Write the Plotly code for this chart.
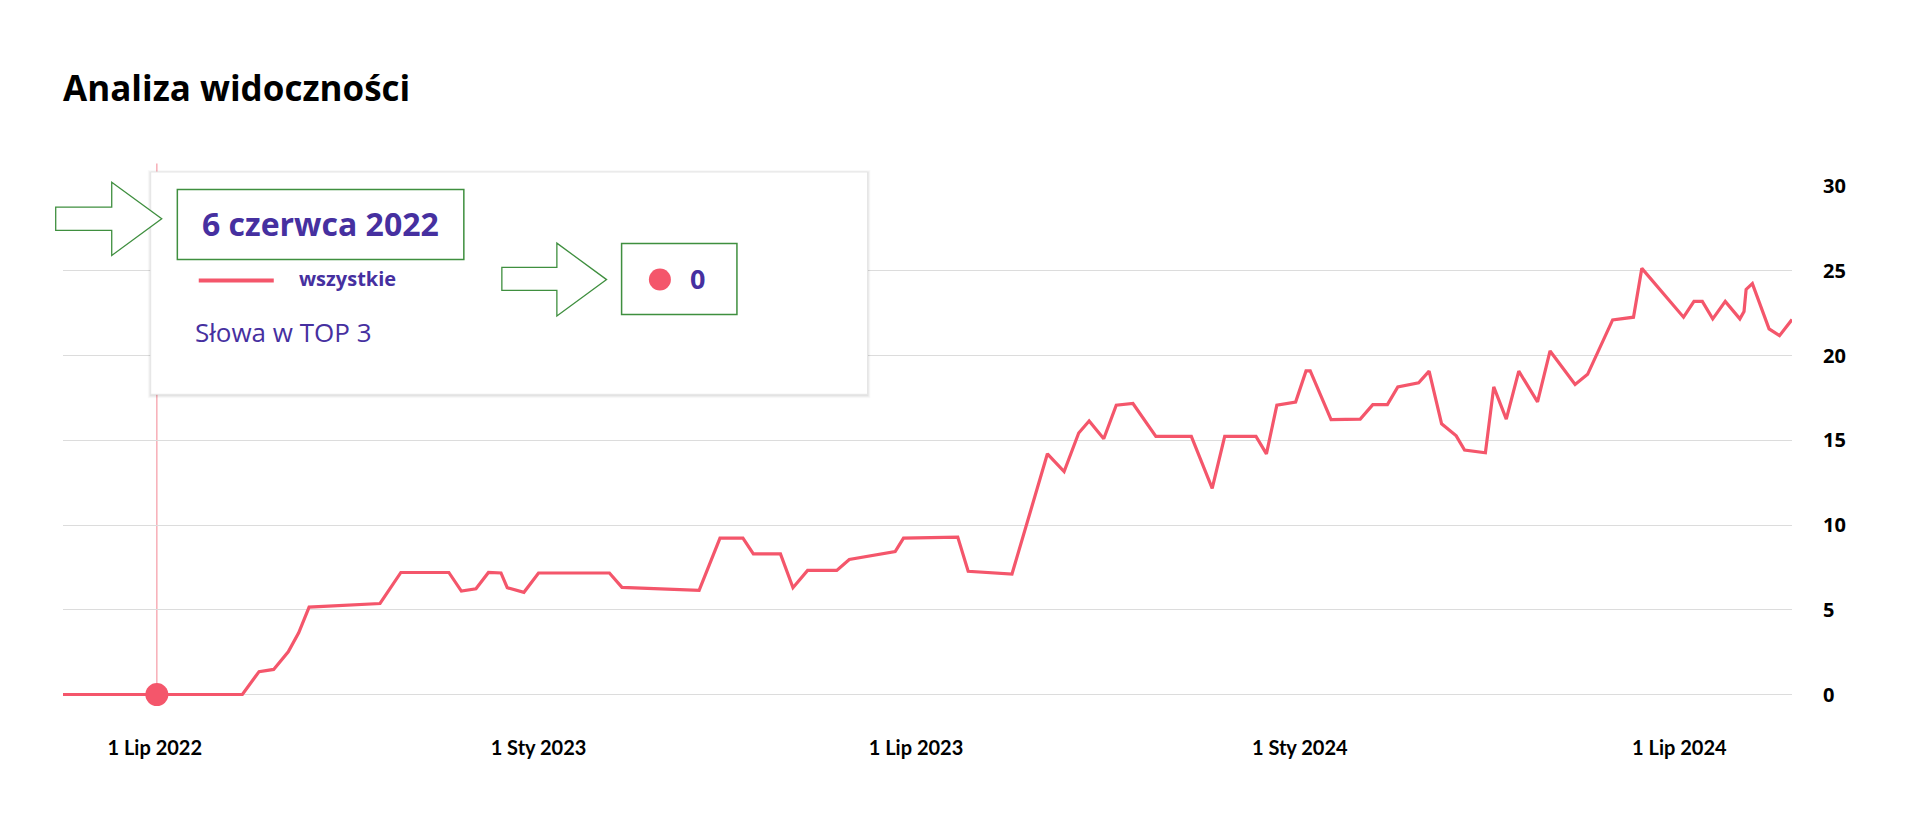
import plotly.graph_objects as go

# ---------------- data ----------------
dates = [
    "2022-05-18", "2022-07-02", "2022-08-12", "2022-08-20", "2022-08-27", "2022-09-03",
    "2022-09-08", "2022-09-13", "2022-10-17", "2022-10-27", "2022-11-19", "2022-11-25",
    "2022-12-02", "2022-12-08", "2022-12-14", "2022-12-17", "2022-12-25", "2023-01-01",
    "2023-02-04", "2023-02-10", "2023-03-19", "2023-03-29", "2023-04-09", "2023-04-14",
    "2023-04-27", "2023-05-03", "2023-05-10", "2023-05-24", "2023-05-30", "2023-06-21",
    "2023-06-25", "2023-07-21", "2023-07-26", "2023-08-16", "2023-09-02", "2023-09-10",
    "2023-09-17", "2023-09-22", "2023-09-29", "2023-10-05", "2023-10-13", "2023-10-24",
    "2023-11-10", "2023-11-20", "2023-11-26", "2023-12-11", "2023-12-16", "2023-12-21",
    "2023-12-30", "2024-01-04", "2024-01-06", "2024-01-16", "2024-01-30", "2024-02-05",
    "2024-02-12", "2024-02-17", "2024-02-27", "2024-03-03", "2024-03-09", "2024-03-16",
    "2024-03-20", "2024-03-30", "2024-04-03", "2024-04-09", "2024-04-15", "2024-04-24",
    "2024-04-30", "2024-05-12", "2024-05-18", "2024-05-30", "2024-06-09", "2024-06-13",
    "2024-07-03", "2024-07-08", "2024-07-12", "2024-07-17", "2024-07-23", "2024-07-30",
    "2024-08-01", "2024-08-02", "2024-08-05", "2024-08-13", "2024-08-18", "2024-08-24",
]
values = [
    0, 0, 0, 1.35, 1.48, 2.52,
    3.64, 5.16, 5.37, 7.2, 7.2, 6.1,
    6.24, 7.2, 7.17, 6.3, 6.03, 7.17,
    7.17, 6.32, 6.15, 9.23, 9.23, 8.3,
    8.3, 6.3, 7.32, 7.32, 7.97, 8.43,
    9.23, 9.29, 7.27, 7.11, 14.2, 13.15,
    15.43, 16.14, 15.09, 17.07, 17.17, 15.23,
    15.23, 12.16, 15.23, 15.23, 14.2, 17.07,
    17.25, 19.09, 19.09, 16.22, 16.25, 17.1,
    17.1, 18.15, 18.39, 19.08, 15.97, 15.26,
    14.42, 14.26, 18.15, 16.25, 19.08, 17.26,
    20.27, 18.29, 18.89, 22.1, 22.26, 25.14,
    22.26, 23.19, 23.19, 22.16, 23.19, 22.16,
    22.6, 23.9, 24.24, 21.57, 21.17, 22.12,
]
x_tick_vals = ["2022-07-01", "2023-01-01", "2023-07-01", "2024-01-01", "2024-07-01"]
x_tick_text = ["1 Lip 2022", "1 Sty 2023", "1 Lip 2023", "1 Sty 2024", "1 Lip 2024"]
y_tick_vals = [0, 5, 10, 15, 20, 25, 30]

title_text = "Analiza widoczności"
hover_idx = 1
hover_label = "6 czerwca 2022"
series_name = "wszystkie"
metric_name = "Słowa w TOP 3"
hover_value = "0"

# ---------------- styling ----------------
W, H = 1920, 838
L, R, T, B = 63.3, 128.3, 185.5, 135
PW = W - L - R
PH = H - T - B

RED = "#f4566b"
PURPLE = "#4630a0"
GREEN = "#3f8f3f"
FONT = "Open Sans"


def px(x):
    return (x - L) / PW


def py(y):
    return (H - B - y) / PH


def path(points):
    return "M " + " L ".join(f"{px(a):.5f},{py(b):.5f}" for a, b in points) + " Z"


fig = go.Figure()
fig.add_trace(go.Scatter(
    x=dates, y=values, mode="lines",
    line=dict(color=RED, width=3.2),
    hoverinfo="skip", showlegend=False,
))
fig.add_trace(go.Scatter(
    x=[dates[hover_idx]], y=[values[hover_idx]], mode="markers",
    marker=dict(color=RED, size=23),
    cliponaxis=False, hoverinfo="skip", showlegend=False,
))

shapes = []
# hover guide line
shapes.append(dict(type="line", xref="x", yref="paper",
                   x0=dates[hover_idx], x1=dates[hover_idx],
                   y0=py(694.5), y1=py(163),
                   line=dict(color="#f59aa4", width=1.2), layer="between"))
# tooltip shadow
for i, a in enumerate([0.025, 0.035, 0.05]):
    d = 3 - i
    shapes.append(dict(type="rect", xref="paper", yref="paper",
                       x0=px(151 - d), x1=px(867.5 + d), y0=py(394 + d + 1), y1=py(171.5 - d + 1),
                       line=dict(width=0), fillcolor=f"rgba(0,0,0,{a})", layer="above"))
# tooltip box
shapes.append(dict(type="rect", xref="paper", yref="paper",
                   x0=px(151), x1=px(867.5), y0=py(394), y1=py(171.5),
                   line=dict(color="#e6e6e6", width=1), fillcolor="white", layer="above"))
# green boxes
shapes.append(dict(type="rect", xref="paper", yref="paper",
                   x0=px(177.6), x1=px(464), y0=py(259), y1=py(189),
                   line=dict(color=GREEN, width=1.5), fillcolor="rgba(0,0,0,0)", layer="above"))
shapes.append(dict(type="rect", xref="paper", yref="paper",
                   x0=px(621.7), x1=px(737), y0=py(314), y1=py(243),
                   line=dict(color=GREEN, width=1.5), fillcolor="rgba(0,0,0,0)", layer="above"))
# arrows
shapes.append(dict(type="path", xref="paper", yref="paper",
                   path=path([(56, 206.7), (112, 206.7), (112, 181.7), (162, 218.3),
                              (112, 255), (112, 230), (56, 230)]),
                   line=dict(color=GREEN, width=1.3), fillcolor="white", layer="above"))
shapes.append(dict(type="path", xref="paper", yref="paper",
                   path=path([(502, 267), (557, 267), (557, 242.7), (606.7, 279.2),
                              (557, 315.7), (557, 290), (502, 290)]),
                   line=dict(color=GREEN, width=1.3), fillcolor="white", layer="above"))
# legend line in tooltip
shapes.append(dict(type="line", xref="paper", yref="paper",
                   x0=px(199), x1=px(274), y0=py(280), y1=py(280),
                   line=dict(color=RED, width=4), layer="above"))
# red dot in value box
shapes.append(dict(type="circle", xref="paper", yref="paper",
                   x0=px(649), x1=px(671), y0=py(290), y1=py(268),
                   line=dict(width=0), fillcolor=RED, layer="above"))

annotations = [
    dict(text=f"<b>{title_text}</b>", xref="paper", yref="paper", x=px(61), y=py(87),
         xanchor="left", yanchor="middle", showarrow=False,
         font=dict(family=FONT, size=35, color="black")),
    dict(text=f"<b>{hover_label}</b>", xref="paper", yref="paper", x=px(320.8), y=py(223),
         xanchor="center", yanchor="middle", showarrow=False,
         font=dict(family=FONT, size=32, color=PURPLE)),
    dict(text=f"<b>{series_name}</b>", xref="paper", yref="paper", x=px(297), y=py(278),
         xanchor="left", yanchor="middle", showarrow=False,
         font=dict(family=FONT, size=20, color=PURPLE)),
    dict(text=metric_name, xref="paper", yref="paper", x=px(193), y=py(332),
         xanchor="left", yanchor="middle", showarrow=False,
         font=dict(family=FONT, size=26, color=PURPLE)),
    dict(text=f"<b>{hover_value}</b>", xref="paper", yref="paper", x=px(697.7), y=py(278),
         xanchor="center", yanchor="middle", showarrow=False,
         font=dict(family=FONT, size=27, color=PURPLE)),
]

fig.update_layout(
    width=W, height=H, autosize=False,
    margin=dict(l=L, r=R, t=T, b=B, pad=0),
    paper_bgcolor="white", plot_bgcolor="white",
    shapes=shapes, annotations=annotations,
    showlegend=False,
    xaxis=dict(
        type="date", range=[dates[0], dates[-1]],
        tickmode="array", tickvals=x_tick_vals, ticktext=x_tick_text,
        showgrid=False, zeroline=False, showline=False, ticks="",
        ticklabelstandoff=31,
        tickfont=dict(family="Lato", size=20, color="black", weight="bold"),
    ),
    yaxis=dict(
        side="right", range=[-0.5, 30], tickmode="array", tickvals=y_tick_vals,
        showgrid=True, gridcolor="#dcdcdc", gridwidth=1,
        zeroline=False, showline=False, ticks="",
        ticklabelstandoff=30,
        tickfont=dict(family=FONT, size=20, color="black", weight="bold"),
    ),
)

fig.write_html("out.html")
